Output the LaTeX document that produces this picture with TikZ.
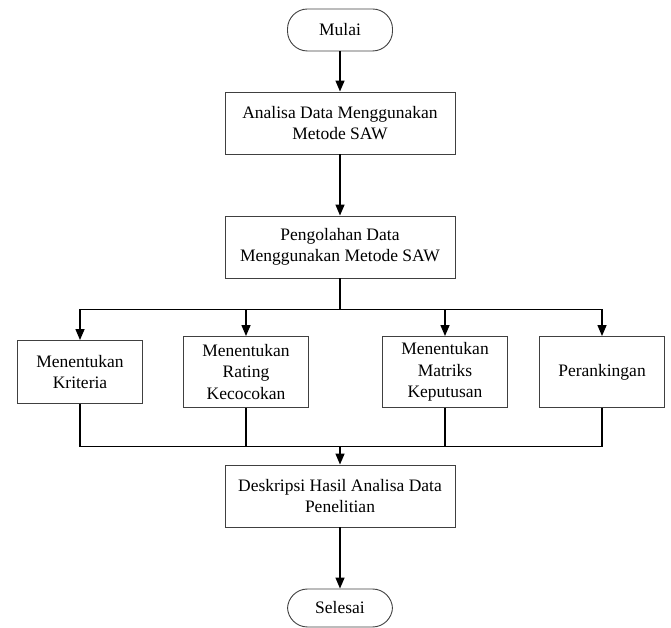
\documentclass[tikz,border=0pt]{standalone}
\usepackage{fontspec}
\setmainfont{Liberation Serif}
\usetikzlibrary{arrows.meta,positioning}

\begin{document}
\begin{tikzpicture}[x=1pt,y=1pt,on grid,
	font=\fontsize{17.5}{20.5}\selectfont,
	term/.style={draw=black!75,line width=0.9pt,rounded corners=20pt,minimum width=105pt,minimum height=42pt,inner sep=0pt},
	kotak/.style={draw=black!75,line width=0.9pt,align=center,minimum width=230pt,minimum height=62pt,inner sep=2pt},
	kecil/.style={kotak,minimum width=125pt,minimum height=71pt,font=\fontsize{17.5}{21.5}\selectfont},
	garis/.style={line width=1.4pt},
	panah/.style={garis,-{Triangle[length=11pt,width=9pt]}}]
\useasboundingbox (0,0) rectangle (671,628);

\node[term]								(mulai)		at (340,598)							{Mulai};
\node[kotak]							(analisa)	[below=93pt of mulai]					{Analisa Data Menggunakan\\Metode SAW};
\node[kotak]							(olah)		[below=124pt of analisa]				{Pengolahan Data\\Menggunakan Metode SAW};
\node[kecil]							(rating)	[below left=125pt and 94pt of olah]		{Menentukan\\Rating\\Kecocokan};
\node[kecil]							(matriks)	[below right=125pt and 105pt of olah]	{Menentukan\\Matriks\\Keputusan};
\node[kecil,minimum height=63pt]		(kriteria)	[left=166pt of rating]					{Menentukan\\Kriteria};
\node[kecil]							(ranking)	[right=157pt of matriks]				{Perankingan};
\node[kotak]							(deskripsi)	[below=249pt of olah]					{Deskripsi Hasil Analisa Data\\Penelitian};
\node[term,minimum height=38pt]			(selesai)	[below=112pt of deskripsi]				{Selesai};

\coordinate[below=31pt of olah.south]			(pecah);
\coordinate[above=18pt of deskripsi.north]		(gabung);

% alur utama
\draw[panah] (mulai) -- (analisa);
\draw[panah] (analisa) -- (olah);
\draw[garis] (olah) -- (pecah);
\foreach \n in {kriteria,rating,matriks,ranking}
	\draw[panah] (pecah) -| (\n.north);
\foreach \n in {kriteria,rating,matriks,ranking}
	\draw[garis] (\n.south) |- (gabung);
\draw[panah] (gabung) -- (deskripsi);
\draw[panah] (deskripsi) -- (selesai);
\end{tikzpicture}
\end{document}
